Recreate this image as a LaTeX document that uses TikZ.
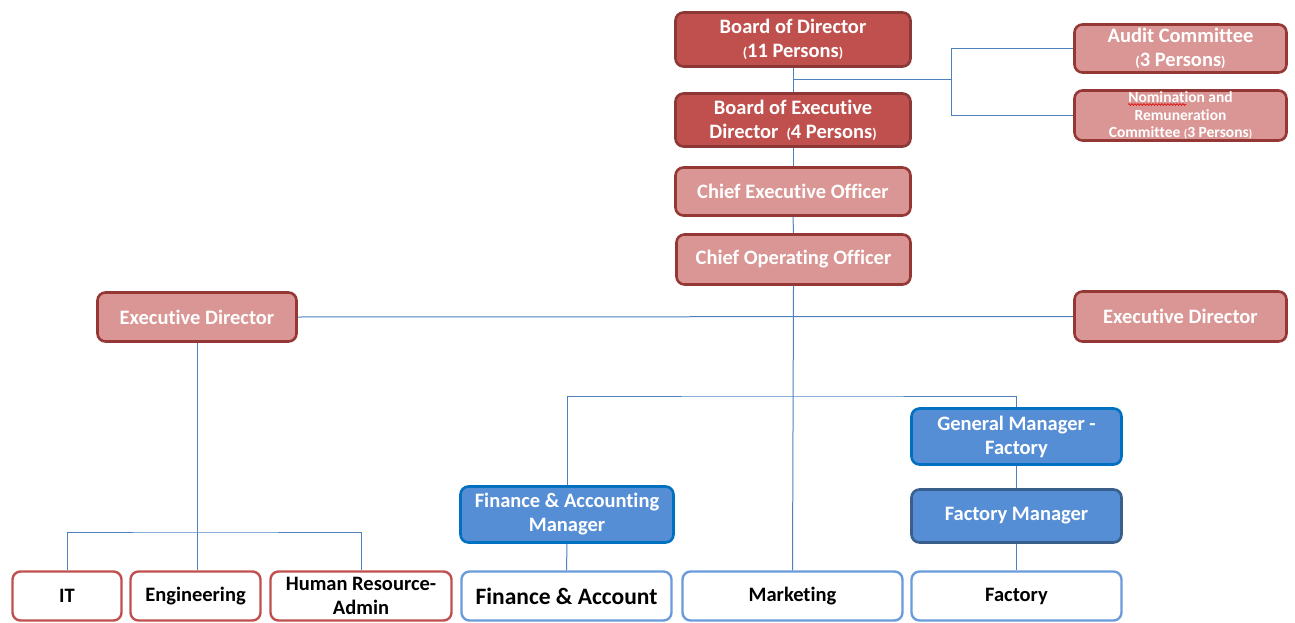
\documentclass[tikz,border=0pt]{standalone}
\usepackage{fontspec}
\setmainfont{Carlito}[Ligatures=NoCommon]
\usetikzlibrary{decorations.pathmorphing}
\definecolor{bodfill}{HTML}{C0504D}
\definecolor{bodline}{HTML}{8C3836}
\definecolor{lightfill}{HTML}{D99694}
\definecolor{lightline}{HTML}{953735}
\definecolor{mgrfill}{HTML}{558ED5}
\definecolor{mgrline}{HTML}{0070C0}
\definecolor{fmline}{HTML}{3A5F8B}
\definecolor{unitred}{HTML}{C0504D}
\definecolor{unitblue}{HTML}{6A9BDA}
\definecolor{linkblue}{HTML}{4F81BD}
\newcommand{\fsz}[1]{\fontsize{#1}{24pt}\selectfont}
\newcommand{\sm}[1]{{\fontsize{14}{14}\selectfont#1}}
\begin{document}
\begin{tikzpicture}[x=1pt,y=-1pt,
  box/.style={rectangle, rounded corners=8pt, line width=2.6pt, align=center,
    inner sep=0pt, font=\bfseries\fsz{20.5}},
  bodbox/.style={box, fill=bodfill, draw=bodline, text=white},
  lightbox/.style={box, fill=lightfill, draw=lightline, text=white},
  mgrbox/.style={box, fill=mgrfill, draw=mgrline, text=white},
  redunit/.style={box, fill=white, draw=unitred, text=black, line width=2.4pt},
  blueunit/.style={box, fill=white, draw=unitblue, text=black, line width=2.4pt},
  link/.style={draw=linkblue, line width=1pt}]
\useasboundingbox (0,0) rectangle (1295,623);

% board level
\node[bodbox, minimum width=235pt, minimum height=54pt] (bod) at (793,39.5)
  {Board of Director\\\sm{(}11 Persons\sm{)}};
\node[bodbox, minimum width=235pt, minimum height=53pt] (boed) at (793,120)
  {Board of Executive\\Director \,\sm{(}4 Persons\sm{)}};
\node[lightbox, minimum width=235pt, minimum height=48pt] (ceo) at (793,191.5)
  {Chief Executive Officer};
\node[lightbox, minimum width=234pt, minimum height=50pt] (coo) at (793.5,259.5)
  {Chief Operating Officer};

% committees
\node[lightbox, minimum width=212pt, minimum height=48pt] (audit) at (1180.5,48.5)
  {Audit Committee\\\sm{(}3 Persons\sm{)}};
\node[lightbox, minimum width=212pt, minimum height=50pt, font=\bfseries\fontsize{15.5}{17.5}\selectfont]
  (nom) at (1180.5,115.5)
  {Nomination and\\Remuneration\\Committee {\fontsize{11}{11}\selectfont(}3 Persons{\fontsize{11}{11}\selectfont)}};
\draw[red!85!black, line width=0.6pt, decorate,
  decoration={snake, amplitude=0.9pt, segment length=3pt}] (1128,104.5) -- (1186,104.5);

% executive directors
\node[lightbox, minimum width=199pt, minimum height=49pt] (edl) at (197,317)
  {Executive Director};
\node[lightbox, minimum width=212pt, minimum height=50pt] (edr) at (1180.5,316.5)
  {Executive Director};

% managers
\node[mgrbox, minimum width=210pt, minimum height=56pt] (gm) at (1016.5,436.5)
  {General Manager -\\Factory};
\node[mgrbox, draw=fmline, minimum width=210pt, minimum height=53pt] (fm) at (1016.5,516)
  {Factory Manager};
\node[mgrbox, minimum width=213pt, minimum height=56pt] (fam) at (567,514.5)
  {Finance \& Accounting\\Manager};

% departments
\node[redunit, minimum width=109pt, minimum height=49pt] (it) at (67,596) {IT};
\node[redunit, minimum width=130pt, minimum height=49pt] (eng) at (195.5,596) {Engineering};
\node[redunit, minimum width=181pt, minimum height=49pt] (hr) at (361,596)
  {Human Resource-\\Admin};
\node[blueunit, minimum width=210pt, minimum height=49pt, font=\bfseries\fontsize{23.5}{28}\selectfont] (fa) at (566.5,596)
  {Finance \& Account};
\node[blueunit, minimum width=220pt, minimum height=49pt] (mkt) at (792.5,596) {Marketing};
\node[blueunit, minimum width=210pt, minimum height=49pt] (fac) at (1016.5,596) {Factory};

% connectors
\coordinate (csplit) at (793,80);
\coordinate (cbus) at (951,80);
\coordinate (fbus) at (793,396);
\coordinate (lbus) at (197,532);

\draw[link] (bod.south) -- (boed.north);
\draw[link] (csplit) -- (cbus);
\draw[link] (audit.west) -| (cbus) |- (nom.west);
\draw[link] (boed.south) -- (ceo.north);
\draw[link] (ceo.south) -- (coo.north);
\draw[link] (coo.south) -- (mkt.north);
\draw[link] (edl.east) -- (edr.west);
\draw[link] (fam.north) |- (fbus) -| (gm.north);
\draw[link] (gm.south) -- (fm.north);
\draw[link] (fm.south) -- (fac.north);
\draw[link] (fam.south) -- (fa.north);
\draw[link] (edl.south) -- (edl.south |- eng.north);
\draw[link] (it.north) |- (lbus) -| (hr.north);
\end{tikzpicture}
\end{document}
